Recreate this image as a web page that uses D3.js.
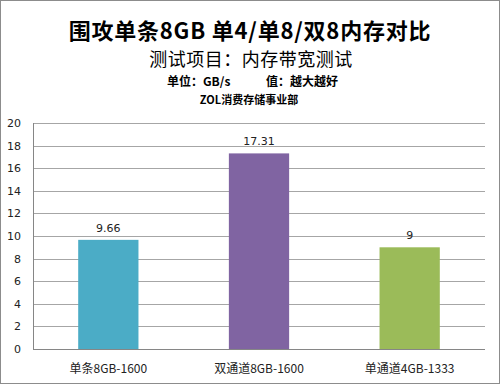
<!DOCTYPE html>
<html>
<head>
<meta charset="utf-8">
<script src="https://cdn.jsdelivr.net/npm/d3@7"></script>
<style>
  body { margin: 0; background: #fff; }
  svg { display: block; font-family: "Noto Sans CJK SC", "Noto Sans", sans-serif; }
</style>
</head>
<body>
<div id="chart"></div>
<script>
// chart data
const categories = ["单条8GB-1600", "双通道8GB-1600", "单通道4GB-1333"];
const values = [9.66, 17.31, 9];
const valueLabels = ["9.66", "17.31", "9"];
const barColors = ["#4BACC6", "#8064A2", "#9BBB59"];
const yTicks = [0, 2, 4, 6, 8, 10, 12, 14, 16, 18, 20];

const width = 500, height = 384;
const margin = { top: 123, right: 15, bottom: 35, left: 33 };

const svg = d3.select("#chart").append("svg")
    .attr("width", width)
    .attr("height", height);

svg.append("rect")
    .attr("x", 0.5).attr("y", 0.5)
    .attr("width", width - 1).attr("height", height - 1)
    .attr("fill", "#fff")
    .attr("stroke", "#8c8c8c");

// titles
svg.append("text")
    .attr("x", 250).attr("y", 39)
    .attr("text-anchor", "middle")
    .style("font-size", "22px").style("font-weight", "bold")
    .style("letter-spacing", "0.8px")
    .text("围攻单条8GB 单4/单8/双8内存对比");

svg.append("text")
    .attr("x", 251).attr("y", 66)
    .attr("text-anchor", "middle")
    .style("font-size", "18px")
    .style("letter-spacing", "0.5px")
    .text("测试项目：内存带宽测试");

svg.append("text")
    .attr("x", 167).attr("y", 86)
    .style("font-size", "12px").style("font-weight", "bold")
    .text("单位：GB/s");

svg.append("text")
    .attr("x", 266).attr("y", 86)
    .style("font-size", "12px").style("font-weight", "bold")
    .text("值：越大越好");

svg.append("text")
    .attr("x", 249).attr("y", 104)
    .attr("text-anchor", "middle")
    .style("font-size", "11px").style("font-weight", "bold")
    .text("ZOL消费存储事业部");

// scales
const x = d3.scaleBand()
    .domain(categories)
    .range([margin.left, width - margin.right])
    .paddingInner(0.6)
    .paddingOuter(0.3);

const y = d3.scaleLinear()
    .domain([0, 20])
    .range([height - margin.bottom, margin.top]);

// gridlines
svg.append("g")
    .selectAll("line")
    .data(yTicks.filter(d => d > 0))
    .enter()
    .append("line")
    .attr("x1", margin.left)
    .attr("x2", width - margin.right)
    .attr("y1", d => Math.round(y(d)) + 0.5)
    .attr("y2", d => Math.round(y(d)) + 0.5)
    .attr("stroke", "#a6a6a6");

// y axis labels
svg.append("g")
    .selectAll("text")
    .data(yTicks)
    .enter()
    .append("text")
    .attr("x", 21)
    .attr("y", d => y(d) + 4)
    .attr("text-anchor", "end")
    .style("font-size", "11px")
    .style("font-family", "'DejaVu Sans', sans-serif")
    .attr("fill", "#222")
    .text(d => d);

// bars
svg.append("g")
    .selectAll("rect")
    .data(values)
    .enter()
    .append("rect")
    .attr("x", (d, i) => x(categories[i]))
    .attr("y", d => y(d))
    .attr("width", x.bandwidth())
    .attr("height", d => y(0) - y(d))
    .attr("fill", (d, i) => barColors[i]);

// value labels
svg.append("g")
    .selectAll("text")
    .data(values)
    .enter()
    .append("text")
    .attr("x", (d, i) => x(categories[i]) + x.bandwidth() / 2)
    .attr("y", d => y(d) - 8)
    .attr("text-anchor", "middle")
    .style("font-size", "11px")
    .style("font-family", "'DejaVu Sans', sans-serif")
    .attr("fill", "#222")
    .text((d, i) => valueLabels[i]);

// axis lines
svg.append("line")
    .attr("x1", margin.left + 0.5).attr("x2", margin.left + 0.5)
    .attr("y1", y(20)).attr("y2", y(0))
    .attr("stroke", "#868686");

svg.append("line")
    .attr("x1", margin.left).attr("x2", width - margin.right)
    .attr("y1", Math.round(y(0)) + 0.5).attr("y2", Math.round(y(0)) + 0.5)
    .attr("stroke", "#868686");

// category labels
svg.append("g")
    .selectAll("text")
    .data(categories)
    .enter()
    .append("text")
    .attr("x", d => x(d) + x.bandwidth() / 2)
    .attr("y", 373)
    .attr("text-anchor", "middle")
    .style("font-size", "12px")
    .attr("fill", "#222")
    .text(d => d);
</script>
</body>
</html>
